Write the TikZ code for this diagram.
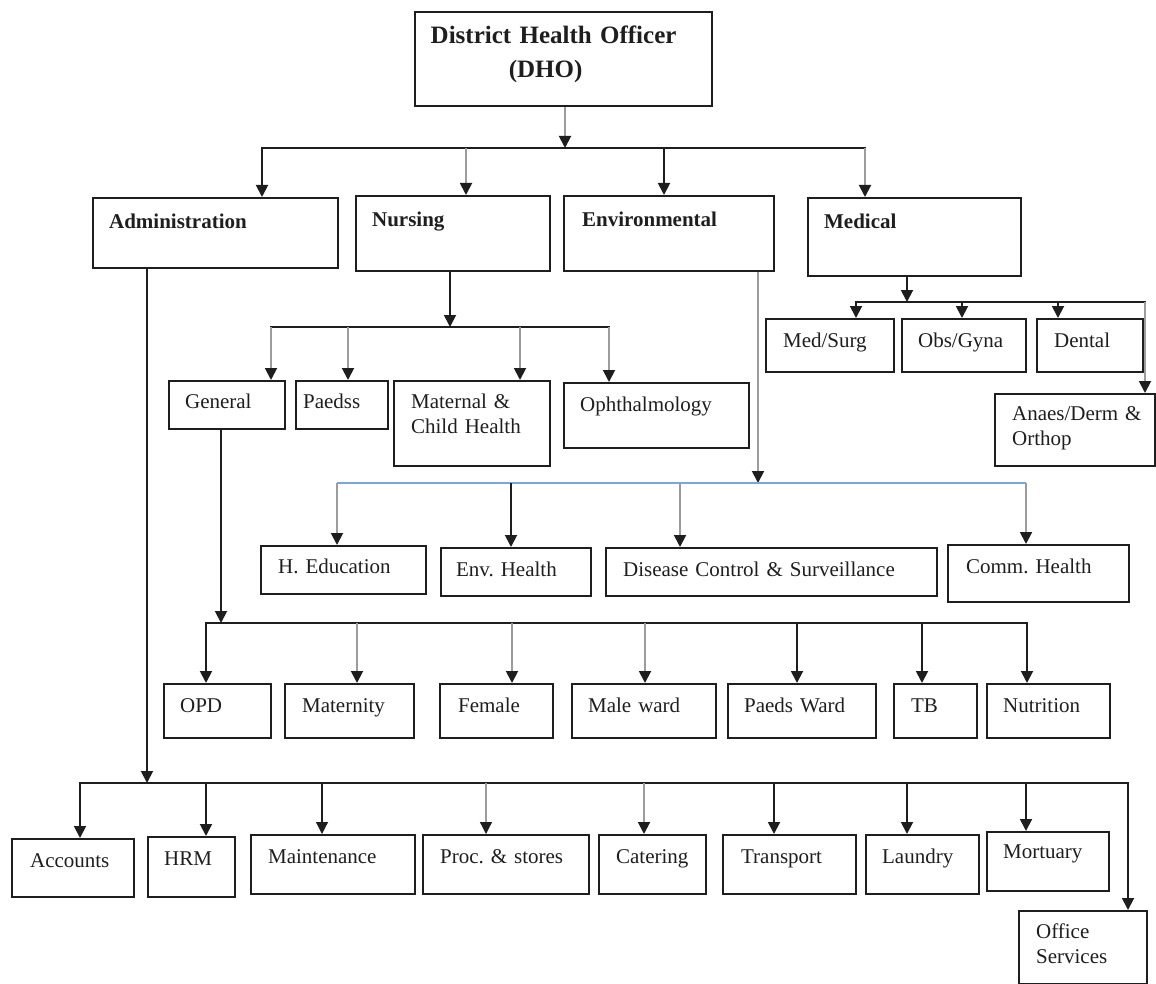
\documentclass[tikz,border=0pt]{standalone}
\usepackage{fontspec}
\setmainfont{Liberation Serif}
\usetikzlibrary{arrows.meta}
\definecolor{ink}{HTML}{1E1E1E}
\definecolor{gry}{HTML}{9C9C9C}
\definecolor{blu}{HTML}{7AA6DA}
\newcommand\nf{\fontsize{21}{25}\selectfont\frenchspacing}
\newcommand\tf{\fontsize{25}{34}\selectfont\bfseries\frenchspacing}
\begin{document}
\begin{tikzpicture}[x=1pt,y=-1pt,
  boxbase/.style={draw=ink, line width=2.2pt, anchor=north west, inner ysep=0pt, align=left, font=\nf, text=ink},
  bx/.code n args={4}{%
    \pgfmathsetmacro\bxtw{#1-2*#3}%
    \pgfmathsetmacro\bxtd{#2-#4}%
    \edef\bxtmp{\noexpand\tikzset{inner xsep=#3pt, text width=\bxtw pt, minimum width=#1pt, text height=#4pt, text depth=\bxtd pt}}%
    \bxtmp\tikzset{boxbase}},
  hd/.style={font=\nf\bfseries},
  ln/.style={draw=ink, line width=1.9pt, line cap=rect},
  lb/.style={draw=blu, line width=1.5pt},
  ar/.style={draw=ink, line width=1.9pt, -{Triangle[length=12pt,width=12pt,color=ink]}},
  ag/.style={draw=gry, line width=1.9pt, -{Triangle[length=12pt,width=12pt,color=ink]}}]
\useasboundingbox (0,0) rectangle (1156,984);

% ---------- boxes ----------
\node[boxbase, inner xsep=0pt, text width=297pt, minimum width=297pt, text height=31pt, text depth=63pt, align=center, font=\tf] (dho) at (414,11)
  {District Health Officer\hspace*{20pt}\mbox{}\\(DHO)\hspace*{36pt}\mbox{}};

\node[bx={245}{70}{16}{30}, hd] (adm) at (92,197) {Administration};
\node[bx={194}{75}{16}{30}, hd] (nur) at (355,195) {Nursing};
\node[bx={210}{75}{18}{30}, hd] (env) at (563,195) {Environmental};
\node[bx={213}{78}{16}{30}, hd] (med) at (807,197) {Medical};

\node[bx={128}{53}{17}{28}] (ms) at (765,318) {Med/Surg};
\node[bx={124}{53}{16}{28}] (og) at (901,318) {Obs/Gyna};
\node[bx={106}{53}{17}{28}] (den) at (1036,318) {Dental};
\node[bx={160}{72}{17}{26}] (ana) at (994,393) {\mbox{Anaes/Derm \&}\\Orthop};

\node[bx={116}{48}{16}{27}] (gen) at (168,380) {General};
\node[bx={92}{48}{7}{27}] (pae) at (295,380) {Paedss};
\node[bx={156}{85}{17}{27}] (mat) at (393,380) {Maternal \&\\Child Health};
\node[bx={185}{65}{16}{28}] (oph) at (563,382) {Ophthalmology};

\node[bx={165}{48}{17}{27}] (hed) at (260,545) {H. Education};
\node[bx={150}{48}{15}{28}] (envh) at (440,547) {Env. Health};
\node[bx={331}{48}{17}{28}] (dis) at (605,547) {Disease Control \& Surveillance};
\node[bx={181}{57}{18}{28}] (com) at (947,544) {Comm. Health};

\node[bx={107}{54}{16}{28}] (opd) at (163,683) {OPD};
\node[bx={129}{54}{17}{28}] (mty) at (284,683) {Maternity};
\node[bx={113}{54}{18}{28}] (fem) at (439,683) {Female};
\node[bx={144}{54}{16}{28}] (male) at (571,683) {Male ward};
\node[bx={148}{54}{16}{28}] (pw) at (727,683) {Paeds Ward};
\node[bx={83}{54}{17}{28}] (tb) at (893,683) {TB};
\node[bx={123}{54}{16}{28}] (nut) at (986,683) {Nutrition};

\node[bx={122}{58}{18}{28}] (acc) at (11,838) {Accounts};
\node[bx={87}{60}{16}{28}] (hrm) at (147,836) {HRM};
\node[bx={164}{59}{17}{28}] (mnt) at (250,834) {Maintenance};
\node[bx={166}{59}{17}{28}] (prc) at (422,834) {Proc. \& stores};
\node[bx={107}{59}{17}{28}] (cat) at (598,834) {Catering};
\node[bx={133}{59}{18}{28}] (trn) at (722,834) {Transport};
\node[bx={113}{59}{16}{28}] (lau) at (865,834) {Laundry};
\node[bx={122}{59}{16}{26}] (mor) at (986,831) {Mortuary};
\node[bx={128}{73}{17}{27}] (off) at (1018,910) {Office\\Services};

% ---------- level 1 ----------
\coordinate (j0) at (565,148);
\coordinate (jAdm) at (262,148);
\coordinate (jNur) at (466,148);
\coordinate (jEnv) at (664,148);
\coordinate (jMed) at (865,148);
\draw[ag] (dho.south -| j0) -- (j0);
\draw[ln] (jAdm) -- (jMed);
\draw[ar] (jAdm) -- (jAdm |- adm.north);
\draw[ag] (jNur) -- (jNur |- nur.north);
\draw[ar] (jEnv) -- (jEnv |- env.north);
\draw[ag] (jMed) -- (jMed |- med.north);

% ---------- medical ----------
\coordinate (m0) at (907,302);
\coordinate (m1) at (856,302);
\coordinate (m2) at (962,302);
\coordinate (m3) at (1058,302);
\coordinate (m4) at (1145,302);
\draw[ar] (med.south -| m0) -- (m0);
\draw[ln] (m1) -- (m4);
\draw[ar] (m1) -- (m1 |- ms.north);
\draw[ar] (m2) -- (m2 |- og.north);
\draw[ar] (m3) -- (m3 |- den.north);
\draw[ag] (m4) -- (m4 |- ana.north);

% ---------- nursing ----------
\coordinate (n0) at (450,327);
\coordinate (n1) at (271,327);
\coordinate (n2) at (348,327);
\coordinate (n3) at (520,327);
\coordinate (n4) at (609,327);
\draw[ar] (nur.south -| n0) -- (n0);
\draw[ln] (n1) -- (n4);
\draw[ag] (n1) -- (n1 |- gen.north);
\draw[ag] (n2) -- (n2 |- pae.north);
\draw[ag] (n3) -- (n3 |- mat.north);
\draw[ag] (n4) -- (n4 |- oph.north);

% ---------- environmental ----------
\coordinate (e0) at (758,483);
\coordinate (e1) at (337,483);
\coordinate (e2) at (511,483);
\coordinate (e3) at (680,483);
\coordinate (e4) at (1026,483);
\draw[ag] (env.south -| e0) -- (e0);
\draw[lb] (e1) -- (e4);
\draw[ag] (e1) -- (e1 |- hed.north);
\draw[ar] (e2) -- (e2 |- envh.north);
\draw[ag] (e3) -- (e3 |- dis.north);
\draw[ag] (e4) -- (e4 |- com.north);

% ---------- general ----------
\coordinate (g0) at (221,623);
\coordinate (g1) at (206,623);
\coordinate (g2) at (357,623);
\coordinate (g3) at (512,623);
\coordinate (g4) at (645,623);
\coordinate (g5) at (797,623);
\coordinate (g6) at (922,623);
\coordinate (g7) at (1027,623);
\draw[ar] (gen.south -| g0) -- (g0);
\draw[ln] (g1) -- (g7);
\draw[ar] (g1) -- (g1 |- opd.north);
\draw[ag] (g2) -- (g2 |- mty.north);
\draw[ag] (g3) -- (g3 |- fem.north);
\draw[ag] (g4) -- (g4 |- male.north);
\draw[ar] (g5) -- (g5 |- pw.north);
\draw[ar] (g6) -- (g6 |- tb.north);
\draw[ar] (g7) -- (g7 |- nut.north);

% ---------- administration ----------
\coordinate (a0) at (147,783);
\coordinate (a1) at (80,783);
\coordinate (a2) at (206,783);
\coordinate (a3) at (322,783);
\coordinate (a4) at (486,783);
\coordinate (a5) at (644,783);
\coordinate (a6) at (774,783);
\coordinate (a7) at (907,783);
\coordinate (a8) at (1026,783);
\coordinate (a9) at (1128,783);
\draw[ar] (adm.south -| a0) -- (a0);
\draw[ln] (a1) -- (a9);
\draw[ar] (a1) -- (a1 |- acc.north);
\draw[ar] (a2) -- (a2 |- hrm.north);
\draw[ar, line width=1.2pt] (a3) -- (a3 |- mnt.north);
\draw[ag, line width=1.2pt] (a4) -- (a4 |- prc.north);
\draw[ag] (a5) -- (a5 |- cat.north);
\draw[ar] (a6) -- (a6 |- trn.north);
\draw[ar] (a7) -- (a7 |- lau.north);
\draw[ar] (a8) -- (a8 |- mor.north);
\draw[ar] (a9) -- (a9 |- off.north);
\end{tikzpicture}
\end{document}
